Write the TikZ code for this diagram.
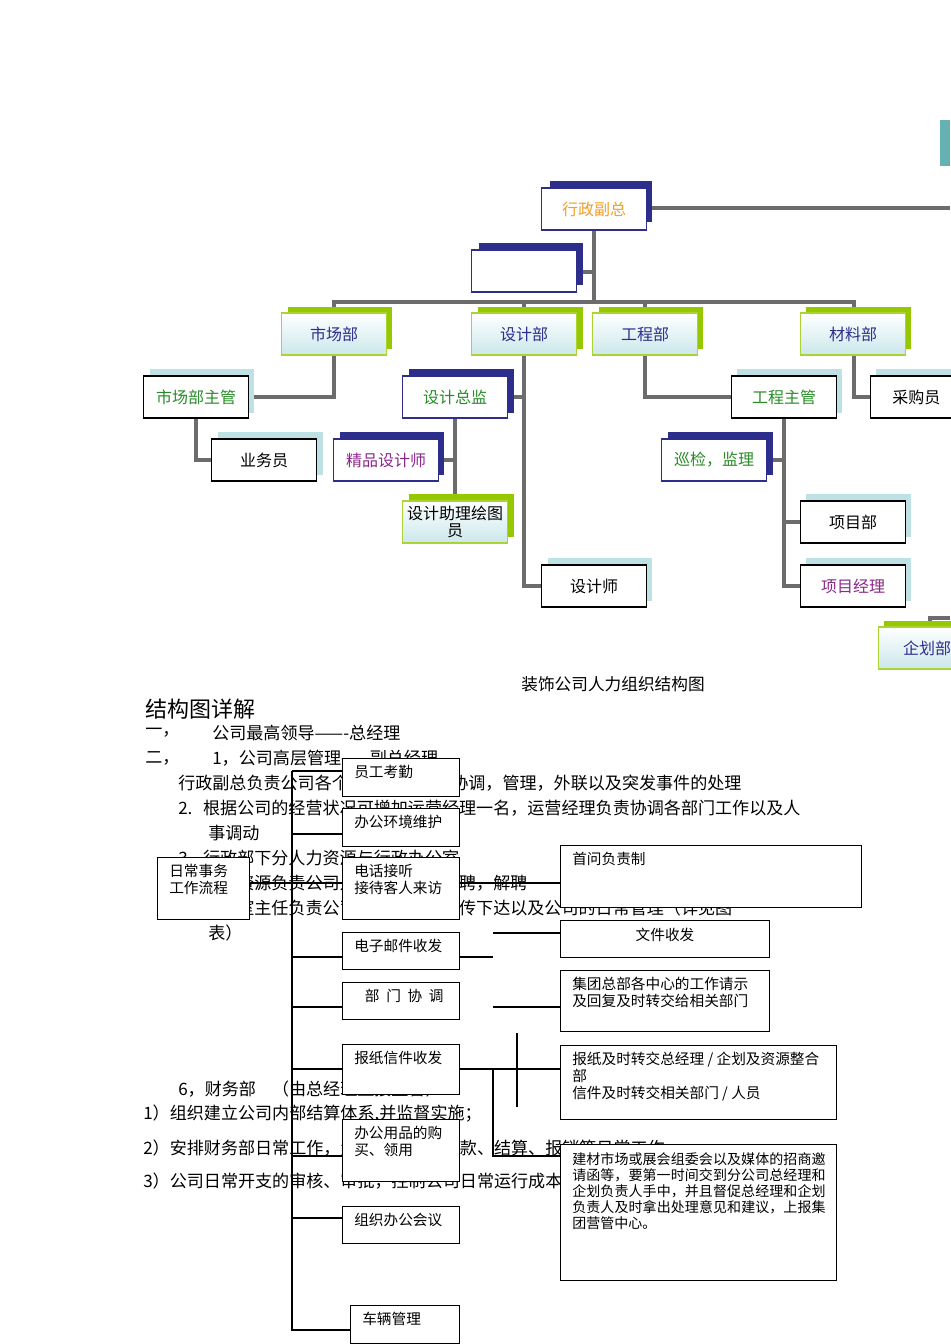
\documentclass[tikz,border=0pt]{standalone}
\usepackage{fontspec}
\setmainfont{Noto Sans CJK SC}
\XeTeXlinebreaklocale "zh"
\XeTeXlinebreakskip=0pt plus 1pt
\begin{document}
\begin{tikzpicture}[x=0.75pt,y=-0.75pt,
  conn/.style={draw=gray!85!black,line width=2.6pt},
  fl/.style={draw=black,line width=0.8pt},
  fbox/.style={draw=black,line width=0.8pt,fill=white,inner sep=0pt},
  tb/.style={draw,line width=0.8pt,minimum width=78.75pt,minimum height=31.5pt,inner sep=1pt,font=\fontsize{12}{13}\selectfont,align=center},
  body/.style={anchor=west,inner sep=0pt,font=\fontsize{12.8}{15}\selectfont}]
\useasboundingbox (0,0) rectangle (950,1344);
\definecolor{navy}{RGB}{45,45,140}
\definecolor{lime}{RGB}{150,200,0}
\definecolor{lblue}{RGB}{190,225,230}
\definecolor{tgreen}{RGB}{40,140,40}
\definecolor{tpurp}{RGB}{140,40,140}
\definecolor{torange}{RGB}{240,160,40}
% connectors (behind)
\draw[conn] (594,230) -- (594,302);
\draw[conn] (577,272) -- (594,272);
\draw[conn] (334,313) -- (334,302) -- (854,302) -- (854,313);
\draw[conn] (524,302) -- (524,313);
\draw[conn] (645,302) -- (645,313);
\draw[conn] (645,208) -- (950,208);
\draw[conn] (334,355) -- (334,397) -- (249,397);
\draw[conn] (196,419) -- (196,460) -- (212,460);
\draw[conn] (524,355) -- (524,586) -- (542,586);
\draw[conn] (508,397) -- (524,397);
\draw[conn] (455,419) -- (455,500);
\draw[conn] (438,460) -- (455,460);
\draw[conn] (645,355) -- (645,397) -- (731,397);
\draw[conn] (854,355) -- (854,397) -- (870,397);
\draw[conn] (784,419) -- (784,586) -- (800,586);
\draw[conn] (767,460) -- (784,460);
\draw[conn] (784,522) -- (800,522);
\draw[conn] (930,627) -- (930,618) -- (950,618);
% top-right partial
\fill[teal!60] (940,120) rectangle (950,166);
% boxes
\fill[navy] (550,181) rectangle (652,222);
\node[tb,draw=navy,fill=white,text=torange] (xz) at (594,209) {行政副总};
\fill[navy] (479,243) rectangle (583,285);
\node[tb,draw=navy,fill=white] (blank) at (524,271) {};
\fill[lime] (288,307) rectangle (392,349);
\node[tb,draw=lime!80,top color=white,bottom color=lblue!80,text=navy] (sc) at (334,334) {市场部};
\fill[lime] (478,307) rectangle (583,349);
\node[tb,draw=lime!80,top color=white,bottom color=lblue!80,text=navy] (sj) at (524,334) {设计部};
\fill[lime] (599,307) rectangle (703,349);
\node[tb,draw=lime!80,top color=white,bottom color=lblue!80,text=navy] (gc) at (645,334) {工程部};
\fill[lime] (806,307) rectangle (911,349);
\node[tb,draw=lime!80,top color=white,bottom color=lblue!80,text=navy] (cl) at (853,334) {材料部};
\fill[lblue] (150,369) rectangle (254,413);
\node[tb,draw=black,fill=white,text=tgreen] (scz) at (196,397) {市场部主管};
\fill[lblue] (218,432) rectangle (323,475);
\node[tb,draw=black,fill=white] (ywy) at (264,460) {业务员};
\fill[navy] (409,369) rectangle (514,413);
\node[tb,draw=navy,fill=white,text=tgreen] (sjzj) at (455,397) {设计总监};
\fill[navy] (340,432) rectangle (444,475);
\node[tb,draw=navy,fill=white,text=tpurp] (jp) at (386,460) {精品设计师};
\fill[lime] (409,494) rectangle (514,537);
\node[tb,draw=lime!80,top color=white,bottom color=lblue!80,text=black] (zl) at (455,522) {设计助理绘图\\员};
\fill[lblue] (548,558) rectangle (652,601);
\node[tb,draw=black,fill=white] (sjs) at (594,586) {设计师};
\fill[lblue] (737,369) rectangle (842,413);
\node[tb,draw=black,fill=white,text=tgreen] (gczg) at (784,397) {工程主管};
\fill[navy] (668,432) rectangle (773,475);
\node[tb,draw=navy,fill=white,text=tgreen] (xj) at (714,460) {巡检，监理};
\fill[lblue] (806,494) rectangle (911,537);
\node[tb,draw=black,fill=white] (xmb) at (853,522) {项目部};
\fill[lblue] (806,558) rectangle (911,601);
\node[tb,draw=black,fill=white,text=tpurp] (xmjl) at (853,586) {项目经理};
\fill[lblue] (876,369) rectangle (960,413);
\node[tb,draw=black,fill=white,anchor=west,align=left,text width=70pt] (cgy) at (870,397) {\hspace{12pt}采购员};
\fill[lime] (884,621) rectangle (960,663);
\node[tb,draw=lime!80,top color=white,bottom color=lblue!80,text=navy,anchor=west,align=left,text width=70pt] (qh) at (878,648) {\hspace{14pt}企划部};
\node[font=\fontsize{12.5}{13}\selectfont] (cap) at (613,684) {装饰公司人力组织结构图};
% body text
\node[body,font=\fontsize{16.5}{18}\selectfont] (t0) at (145,709) {结构图详解};
\node[body] (t1a) at (145,733) {一，};
\node[body] (t1b) at (212,733) {公司最高领导——-总经理};
\node[body] (t2a) at (145,758) {二，};
\node[body] (t2b) at (212,758) {1，公司高层管理——副总经理};
\node[body] (t3) at (178,783) {行政副总负责公司各个部门的运营，协调，管理，外联以及突发事件的处理};
\node[body] (t4) at (178,808) {2.\hspace{8pt}根据公司的经营状况可增加运营经理一名，运营经理负责协调各部门工作以及人};
\node[body] (t5) at (208,833) {事调动};
\node[body] (t6) at (178,858) {3.\hspace{8pt}行政部下分人力资源与行政办公室};
\node[body] (t7) at (178,883) {4.\hspace{8pt}人力资源负责公司人员的调配，招聘，解聘};
\node[body] (t8) at (178,908) {5.\hspace{8pt}办公室主任负责公司会议决议的上传下达以及公司的日常管理（详见图};
\node[body] (t9) at (208,933) {表）};
\node[body] (t10) at (178,1089) {6，财务部\hspace{12pt}（由总经理直接监督）};
\node[body] (t11) at (143,1114) {1）组织建立公司内部结算体系,并监督实施；};
\node[body] (t12) at (143,1148) {2）安排财务部日常工作，负责公司内部收款、结算、报销等日常工作};
\node[body] (t13) at (143,1181) {3）公司日常开支的审核、审批，控制公司日常运行成本};
% flow lines
\draw[fl] (292,771) -- (292,1330) -- (350,1330);
\coordinate (jA) at (493,957);
\coordinate (jB) at (493,933);
\draw[fl] (292,771) -- (342,771);
\draw[fl] (292,834) -- (342,834);
\draw[fl] (249,883) -- (560,883);
\draw[fl] (292,957) -- (342,957);
\draw[fl] (459,957) -- (jA);
\draw[fl] (jB) -- (560,933);
\draw[fl] (292,1007) -- (342,1007);
\draw[fl] (493,1007) -- (560,1007);
\draw[fl] (517,1033) -- (517,1107);
\draw[fl] (292,1069) -- (560,1069);
\draw[fl] (493,1069) -- (493,1156) -- (560,1156);
\draw[fl] (292,1156) -- (342,1156);
\draw[fl] (292,1218) -- (342,1218);
% flow boxes
\newcommand\fb[6]{\node[fbox,minimum width={(#4-#2)*0.75pt},minimum height={(#5-#3)*0.75pt},anchor=north west] (#1) at (#2,#3) {};
  \node[anchor=north west,inner sep=0pt,font=\fontsize{11}{12.5}\selectfont,align=left] (#1t) at (#2+12,#3+7) {#6};}
\fb{rc}{157}{857}{249}{919}{日常事务\\工作流程}
\fb{kq}{342}{758}{459}{796}{员工考勤}
\fb{hj}{342}{808}{459}{846}{办公环境维护}
\fb{dh}{342}{857}{459}{919}{电话接听\\接待客人来访}
\fb{yj}{342}{932}{459}{969}{电子邮件收发}
\fb{bm}{342}{982}{459}{1019}{\hspace{8pt}部\hspace{5pt}门\hspace{5pt}协\hspace{5pt}调}
\fb{bz}{342}{1044}{459}{1094}{报纸信件收发}
\fb{bg}{342}{1119}{459}{1181}{办公用品的购\\买、领用}
\fb{hy}{342}{1206}{459}{1243}{组织办公会议}
\fb{cl2}{350}{1305}{459}{1343}{车辆管理}
\fb{sw}{560}{845}{861}{907}{首问负责制}
\node[fbox,minimum width=156.75pt,minimum height=27.75pt,anchor=north west] (wj) at (560,920) {};
\node[font=\fontsize{11}{12}\selectfont] (wjt) at (665,935) {文件收发};
\fb{jt}{560}{970}{769}{1031}{集团总部各中心的工作请示\\及回复及时转交给相关部门}
\fb{bzz}{560}{1045}{836}{1119}{报纸及时转交总经理 / 企划及资源整合\\部\\信件及时转交相关部门 / 人员}
\node[fbox,minimum width=207pt,minimum height=102pt,anchor=north west] (jc) at (560,1144) {};
\node[anchor=north west,inner sep=0pt,text width=190pt,font=\fontsize{10.5}{12}\selectfont,align=justify] (jct) at (572,1152) {建材市场或展会组委会以及媒体的招商邀请函等，要第一时间交到分公司总经理和企划负责人手中，并且督促总经理和企划负责人及时拿出处理意见和建议，上报集团营管中心。};
\end{tikzpicture}
\end{document}
